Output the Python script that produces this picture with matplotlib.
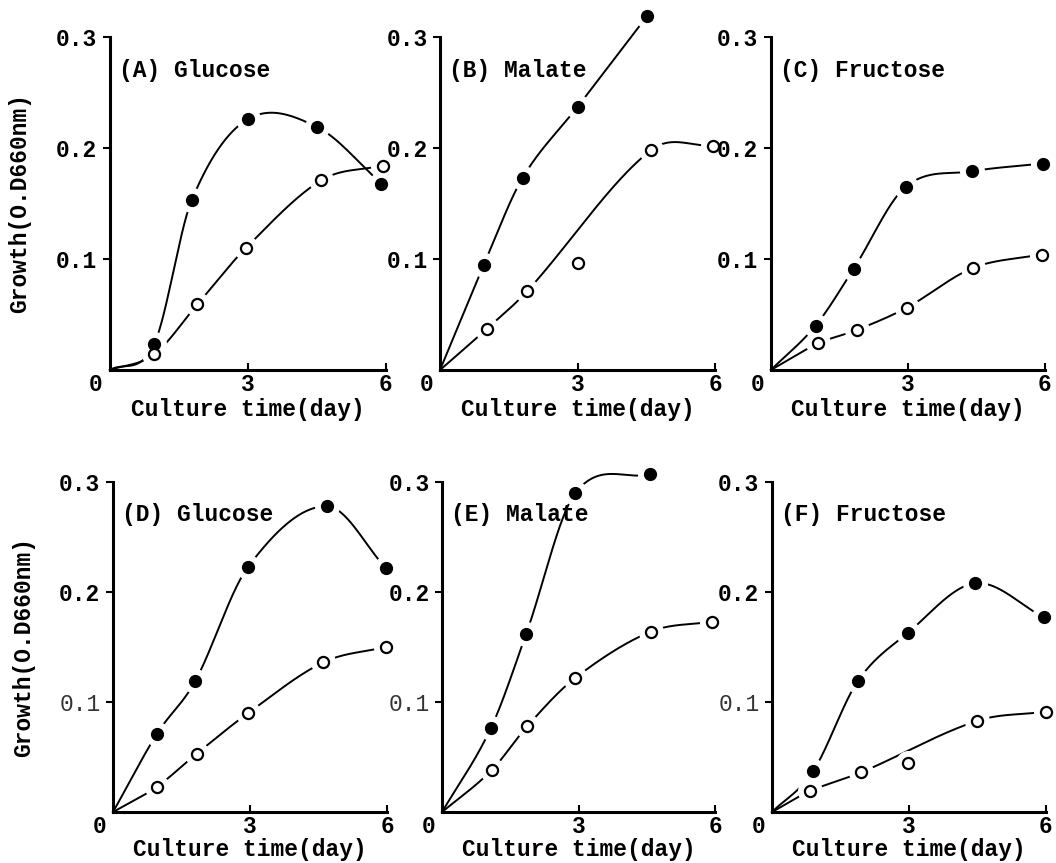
import numpy as np
import matplotlib
matplotlib.use("Agg")
import matplotlib.pyplot as plt

plt.rcParams['font.family'] = ['Liberation Mono', 'DejaVu Sans Mono']

# panel titles
titles = ["(A) Glucose", "(B) Malate", "(C) Fructose",
          "(D) Glucose", "(E) Malate", "(F) Fructose"]

# filled circles (x = day, y = O.D660)
filled_x = [
    [0.96, 1.78, 3.0, 4.5, 5.9],
    [0.96, 1.8, 3.0, 4.52],
    [0.98, 1.81, 2.95, 4.4, 5.95],
    [0.96, 1.8, 2.96, 4.68, 5.97],
    [1.07, 1.85, 2.93, 4.57],
    [0.9, 1.88, 2.98, 4.45, 5.95],
]
filled_y = [
    [0.023, 0.153, 0.226, 0.219, 0.168],
    [0.095, 0.173, 0.237, 0.319],
    [0.040, 0.091, 0.165, 0.179, 0.186],
    [0.071, 0.119, 0.223, 0.278, 0.222],
    [0.076, 0.162, 0.290, 0.307],
    [0.037, 0.119, 0.163, 0.208, 0.177],
]

# open circles
open_x = [
    [0.96, 1.9, 2.96, 4.6, 5.93],
    [1.02, 1.9, 3.0, 4.6, 5.96],
    [1.04, 1.88, 2.97, 4.43, 5.93],
    [0.96, 1.83, 2.96, 4.6, 5.97],
    [1.09, 1.87, 2.93, 4.59, 5.93],
    [0.83, 1.95, 2.98, 4.5, 6.0],
]
open_y = [
    [0.014, 0.059, 0.110, 0.171, 0.184],
    [0.037, 0.071, 0.096, 0.198, 0.202],
    [0.024, 0.036, 0.056, 0.092, 0.104],
    [0.023, 0.053, 0.090, 0.136, 0.150],
    [0.038, 0.078, 0.122, 0.164, 0.173],
    [0.019, 0.036, 0.045, 0.083, 0.091],
]
# points the hand-drawn curve does not pass through
open_skip = [[], [2], [], [], [], [2]]

y_ticks = [0.1, 0.2, 0.3]
y_tick_labels = ["0.1", "0.2", "0.3"]
x_ticks = [3, 6]
x_tick_labels = ["3", "6"]

# axes rectangles in figure fractions
positions = [
    [0.104, 0.5713, 0.2614, 0.3858],
    [0.4167, 0.5713, 0.2604, 0.3858],
    [0.730, 0.5713, 0.2595, 0.3858],
    [0.107, 0.0590, 0.2595, 0.3825],
    [0.4186, 0.0590, 0.2585, 0.3825],
    [0.731, 0.0590, 0.2595, 0.3825],
]


def smooth(xs, ys, n=200):
    # cubic hermite through the points, tangents from neighbours
    xs = np.asarray(xs, float)
    ys = np.asarray(ys, float)
    m = np.zeros_like(ys)
    m[0] = (ys[1] - ys[0]) / (xs[1] - xs[0])
    m[-1] = (ys[-1] - ys[-2]) / (xs[-1] - xs[-2])
    for i in range(1, len(xs) - 1):
        m[i] = (ys[i + 1] - ys[i - 1]) / (xs[i + 1] - xs[i - 1])
    xx, yy = [], []
    for i in range(len(xs) - 1):
        h = xs[i + 1] - xs[i]
        t = np.linspace(0, 1, n)
        h00 = 2 * t**3 - 3 * t**2 + 1
        h10 = t**3 - 2 * t**2 + t
        h01 = -2 * t**3 + 3 * t**2
        h11 = t**3 - t**2
        xx.append(xs[i] + t * h)
        yy.append(h00 * ys[i] + h10 * h * m[i] + h01 * ys[i + 1] + h11 * h * m[i + 1])
    return np.concatenate(xx), np.concatenate(yy)


fs = 16.5
fig = plt.figure(figsize=(10.56, 8.63), dpi=100)

for k in range(6):
    ax = fig.add_axes(positions[k])
    ax.set_xlim(0, 6)
    ax.set_ylim(0, 0.3)

    for sp in ["top", "right"]:
        ax.spines[sp].set_visible(False)
    for sp in ["left", "bottom"]:
        ax.spines[sp].set_linewidth(2.2)
        ax.spines[sp].set_zorder(6)

    # curves
    cx, cy = smooth([0] + filled_x[k], [0] + filled_y[k])
    ax.plot(cx, cy, color="black", lw=1.4, zorder=2, clip_on=False)
    ox = [0] + [v for i, v in enumerate(open_x[k]) if i not in open_skip[k]]
    oy = [0] + [v for i, v in enumerate(open_y[k]) if i not in open_skip[k]]
    cx, cy = smooth(ox, oy)
    ax.plot(cx, cy, color="black", lw=1.4, zorder=2, clip_on=False)

    # white halo gives the broken line look near the markers
    ax.plot(filled_x[k] + open_x[k], filled_y[k] + open_y[k], "o", ms=17,
            color="white", zorder=3, clip_on=False)
    ax.plot(filled_x[k], filled_y[k], "o", ms=8.5, color="black",
            zorder=4, clip_on=False)
    ax.plot(open_x[k], open_y[k], "o", ms=8, mfc="white", mec="black",
            mew=1.6, zorder=4, clip_on=False)

    ax.set_xticks(x_ticks)
    ax.set_xticklabels(x_tick_labels)
    ax.set_yticks(y_ticks)
    ax.set_yticklabels(y_tick_labels)
    ax.tick_params(axis="x", direction="in", length=5, width=1.5, pad=2,
                   labelsize=fs)
    ax.tick_params(axis="y", direction="out", length=5, width=1.5, pad=4,
                   labelsize=fs)
    for lab in ax.get_xticklabels() + ax.get_yticklabels():
        lab.set_fontweight("bold")
    if k >= 3:
        lab01 = ax.get_yticklabels()[0]
        lab01.set_fontweight("normal")
        lab01.set_color("#333333")

    ax.text(-0.05, -0.045, "0", transform=ax.transAxes, ha="center",
            va="center", fontsize=fs, fontweight="bold")

    ax.text(0.2, 0.27, titles[k], fontsize=fs, fontweight="bold",
            ha="left", va="center")

    ax.set_xlabel("Culture time(day)", fontsize=fs, fontweight="bold")
    ax.xaxis.set_label_coords(0.5, -0.085 if k < 3 else -0.078)
    if k % 3 == 0:
        ax.set_ylabel("Growth(O.D660nm)", fontsize=fs, fontweight="bold")
        ax.yaxis.set_label_coords(-0.285, 0.5)

fig.savefig("out.png", dpi=100)
